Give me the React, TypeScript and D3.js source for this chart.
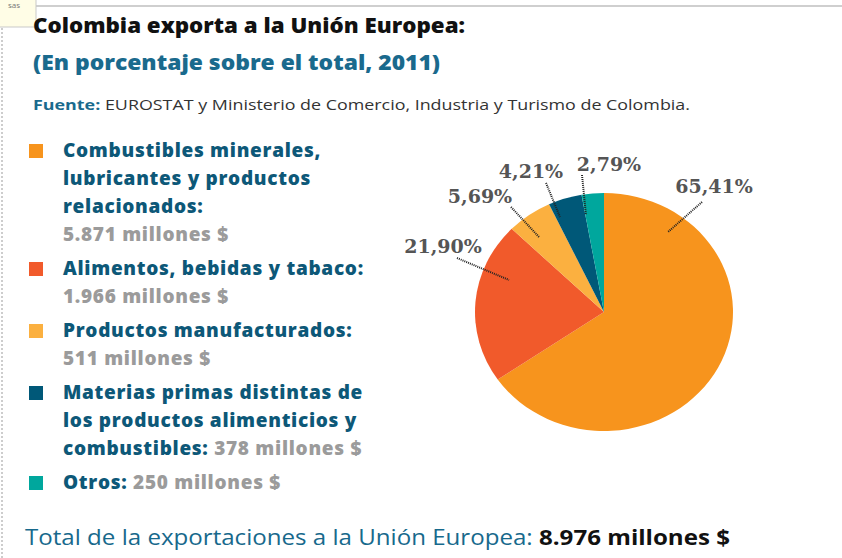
import React from "react";
import * as d3 from "d3";

// ---- data ----
const categories = [
  "Combustibles minerales, lubricantes y productos relacionados",
  "Alimentos, bebidas y tabaco",
  "Productos manufacturados",
  "Materias primas distintas de los productos alimenticios y combustibles",
  "Otros",
];
const legendLines = [
  ["Combustibles minerales,", "lubricantes y productos", "relacionados:"],
  ["Alimentos, bebidas y tabaco:"],
  ["Productos manufacturados:"],
  ["Materias primas distintas de", "los productos alimenticios y", "combustibles:"],
  ["Otros:"],
];
const valueInline = [false, false, false, true, true];
const valuesMillones = [5871, 1966, 511, 378, 250];
const percents = [65.41, 21.9, 5.69, 4.21, 2.79];
const colors = ["#F7941D", "#F15A2B", "#FBB040", "#005878", "#00A79D"];
const totalMillones = 8976;

// annotation layout (label anchor and leader line ends)
const labelLayout = [
  { tx: 714, ty: 193, x1: 702, y1: 202, x2: 668, y2: 232 },
  { tx: 443, ty: 253, x1: 457, y1: 258, x2: 509, y2: 280 },
  { tx: 480, ty: 203, x1: 511, y1: 207, x2: 539, y2: 237 },
  { tx: 531, ty: 178, x1: 546, y1: 183, x2: 560, y2: 217 },
  { tx: 609, ty: 171, x1: 582, y1: 175, x2: 586, y2: 215 },
];

const locale = d3.formatLocale({
  decimal: ",",
  thousands: ".",
  grouping: [3],
  currency: ["", "$"],
});
const fmtInt = locale.format(",d");
const fmtPct = locale.format(".2f");

const BLUE = "#0D5878";
const GRAY = "#9B9B9B";
const SANS = "'Open Sans', Lato, 'DejaVu Sans', sans-serif";

export default function App() {
  const W = 842;
  const H = 558;
  const cx = 604;
  const cy = 312;
  const ry = 119;
  const rx = 129;

  const pie = d3
    .pie<number>()
    .sort(null)
    .value((d) => d)
    .startAngle(0)
    .endAngle(2 * Math.PI);
  const arcs = pie(percents);
  const arc = d3.arc<d3.PieArcDatum<number>>().innerRadius(0).outerRadius(ry);

  // legend layout
  const legendX = 63;
  const squareX = 29;
  const lineH = 28;
  const itemGap = 6;
  let y = 157;
  const legendItems: any[] = [];
  categories.forEach((c, i) => {
    const lines = legendLines[i];
    const startY = y;
    const rows: any[] = [];
    lines.forEach((ln, j) => {
      const isLast = j === lines.length - 1;
      rows.push({ y, text: ln, value: isLast && valueInline[i] ? `${fmtInt(valuesMillones[i])} millones $` : null });
      y += lineH;
    });
    if (!valueInline[i]) {
      rows.push({ y, text: null, value: `${fmtInt(valuesMillones[i])} millones $` });
      y += lineH;
    }
    legendItems.push({ startY, rows, color: colors[i], key: c });
    y += itemGap;
  });

  return (
    <svg
      width={W}
      height={H}
      style={{ position: "absolute", left: 0, top: 0, background: "#fff" }}
    >
      {/* page artifacts */}
      <line x1={36} y1={6} x2={W} y2={6} stroke="#cfcfcf" strokeWidth={2} />
      <line x1={2} y1={28} x2={2} y2={H} stroke="#bdbdbd" strokeWidth={1.5} strokeDasharray="2,2" />
      <rect x={-1} y={-1} width={37} height={28} fill="#FFFDE6" stroke="#c9c9c9" />
      <text x={8} y={8} fontSize={8} fill="#777" fontFamily={SANS}>sas</text>

      {/* titles */}
      <text x={33} y={33} fontFamily={SANS} fontWeight={800} fontSize={21} fill="#111" textLength={432} lengthAdjust="spacingAndGlyphs">
        Colombia exporta a la Unión Europea:
      </text>
      <text x={33} y={70} fontFamily={SANS} fontWeight={800} fontSize={21} fill="#1A6A8D" textLength={407} lengthAdjust="spacingAndGlyphs">
        (En porcentaje sobre el total, 2011)
      </text>
      <text x={33} y={110} fontFamily={SANS} fontSize={15} fill="#333" textLength={657} lengthAdjust="spacingAndGlyphs">
        <tspan fontWeight={700} fill="#1A6A8D">Fuente:</tspan>
        <tspan> EUROSTAT y Ministerio de Comercio, Industria y Turismo de Colombia.</tspan>
      </text>

      {/* legend */}
      {legendItems.map((it) => (
        <g key={it.key}>
          <rect x={squareX} y={it.startY - 13} width={14} height={14} fill={it.color} />
          {it.rows.map((r: any, k: number) => (
            <text key={k} x={legendX} y={r.y} fontFamily={SANS} fontWeight={800} fontSize={19} letterSpacing={0.7}>
              {r.text && <tspan fill={BLUE}>{r.text}</tspan>}
              {r.value && <tspan fill={GRAY}>{(r.text ? " " : "") + r.value}</tspan>}
            </text>
          ))}
        </g>
      ))}

      {/* pie */}
      <g transform={`translate(${cx},${cy}) scale(${rx / ry},1)`}>
        {arcs.map((a, i) => (
          <path key={i} d={arc(a) || ""} fill={colors[i]} />
        ))}
      </g>

      {/* labels */}
      {percents.map((p, i) => {
        const L = labelLayout[i];
        return (
          <g key={i}>
            <line x1={L.x1} y1={L.y1} x2={L.x2} y2={L.y2} stroke="#222" strokeWidth={2} strokeDasharray="1,1" />
            <text x={L.tx} y={L.ty} textAnchor="middle" fontFamily="'DejaVu Serif', serif" fontWeight={700} fontSize={19} fill="#555">
              {fmtPct(p)}%
            </text>
          </g>
        );
      })}

      {/* total */}
      <text x={25} y={545} fontFamily={SANS} fontSize={22} fill="#17698C" textLength={705} lengthAdjust="spacingAndGlyphs">
        <tspan>Total de la exportaciones a la Unión Europea: </tspan>
        <tspan fontWeight={700} fill="#111">{fmtInt(totalMillones)} millones $</tspan>
      </text>
    </svg>
  );
}
